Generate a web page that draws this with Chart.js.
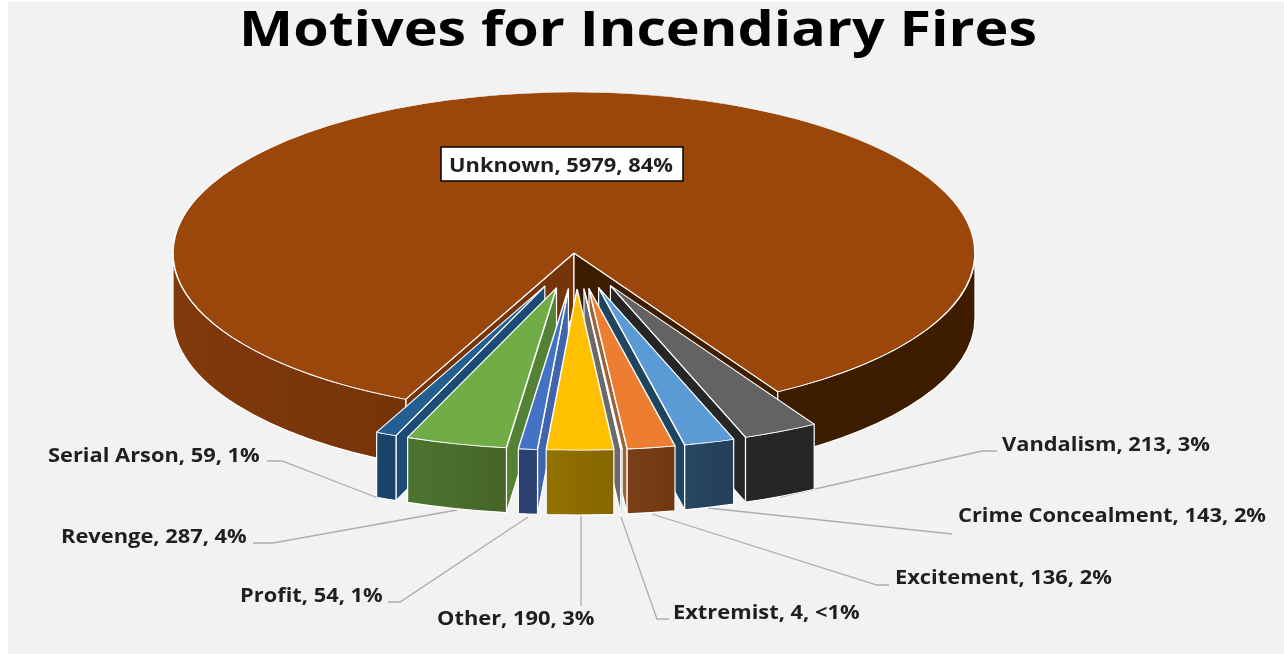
<!DOCTYPE html>
<html>
<head>
<meta charset="utf-8">
<title>Motives for Incendiary Fires</title>
<script src="https://cdn.jsdelivr.net/npm/chart.js@4"></script>
<style>
  html, body { margin: 0; background: #fff; }
  #panel { position: absolute; left: 8px; top: 2px; width: 1276px; height: 652px; background: #f2f2f2; }
  canvas { display: block; }
</style>
</head>
<body>
<div id="panel"><canvas id="fires" width="1260" height="652"></canvas></div>
<script>
const categories = ['Unknown', 'Vandalism', 'Crime Concealment', 'Excitement', 'Extremist', 'Other', 'Profit', 'Revenge', 'Serial Arson'];
const counts = [5979, 213, 143, 136, 4, 190, 54, 287, 59];
const percents = ['84%', '3%', '2%', '2%', '<1%', '3%', '1%', '4%', '1%'];

const topColors = ['#9b470c', '#636363', '#5b9bd5', '#ed7d31', '#a5a5a5', '#ffc000', '#4472c4', '#70ad47', '#255e91'];
const wallColors = [
  ['#80390b', '#763409'], ['#262626', '#262626'], ['#264662', '#243f58'], ['#7b3f17', '#6f3813'], ['#5a5a5a', '#5a5a5a'],
  ['#927200', '#866600'], ['#2b4172', '#2b4172'], ['#4c7531', '#466526'], ['#1a4369', '#1a4369']
];
// [start side, end side] of each cut
const cutColors = [
  ['#763409', '#3d1c00'], ['#262626', '#262626'], ['#1f4460', '#1f4460'], ['#9c6238', '#9c6238'], ['#6a6a6a', '#6a6a6a'],
  ['#8f6f00', '#8f6f00'], ['#3f65ad', '#3f65ad'], ['#548235', '#548235'], ['#1c4c75', '#1c4c75']
];

// label left edge + vertical middle, then leader line, all in page pixels
const labelSpots = [[449, 167], [1002, 446], [958, 517], [895, 579], [673, 614], [437, 620], [240, 597], [61, 538], [48, 457]];
const leaders = [
  null,
  [[780, 497], [982, 451], [997, 451]],
  [[708, 508], [952, 534]],
  [[652, 514], [877, 585], [889, 585]],
  [[621, 517], [657, 619], [669, 619]],
  [[581, 516], [581, 606]],
  [[528, 517], [400, 602], [388, 602]],
  [[457, 510], [273, 543], [253, 543]],
  [[378, 498], [282, 461], [267, 461]]
];

const PANEL_X = 8, PANEL_Y = 2;
const PIE_X = 574 - PANEL_X, PIE_Y = 253 - PANEL_Y;
const SQUASH = 0.4015, PULL_SQUASH = 0.45, DEPTH = 65, PULL = 80, PULL_SHIFT = 2.5;
const LABEL_FONT = 'bold 19px "Open Sans"';
const LABEL_STRETCH = 1.15, TITLE_STRETCH = 1.195;

function pieBox(el) {
  const p = el.getProps(['x', 'y', 'startAngle', 'endAngle', 'outerRadius'], true);
  const mid = (p.startAngle + p.endAngle) / 2;
  const pull = el.$pull;
  return {
    s: p.startAngle, e: p.endAngle, r: p.outerRadius,
    mid: mid,
    cx: PIE_X + Math.cos(mid) * pull + (pull ? PULL_SHIFT : 0),
    cy: PIE_Y + Math.sin(mid) * pull * PULL_SQUASH
  };
}

function strokeWhite(ctx) {
  ctx.strokeStyle = '#fff';
  ctx.lineWidth = 1.2;
  ctx.lineJoin = 'round';
  ctx.stroke();
}

function drawCut(ctx, b, angle, color) {
  const x = b.cx + Math.cos(angle) * b.r;
  const y = b.cy + Math.sin(angle) * b.r * SQUASH;
  ctx.beginPath();
  ctx.moveTo(b.cx, b.cy);
  ctx.lineTo(x, y);
  ctx.lineTo(x, y + DEPTH);
  ctx.lineTo(b.cx, b.cy + DEPTH);
  ctx.closePath();
  ctx.fillStyle = color;
  ctx.fill();
  strokeWhite(ctx);
}

function drawRim(ctx, b, a0, a1, colors) {
  const x0 = b.cx + Math.cos(a0) * b.r, x1 = b.cx + Math.cos(a1) * b.r;
  const g = ctx.createLinearGradient(Math.min(x0, x1), 0, Math.max(x0, x1), 0);
  g.addColorStop(0, colors[0]);
  g.addColorStop(1, colors[1]);
  ctx.beginPath();
  ctx.ellipse(b.cx, b.cy, b.r, b.r * SQUASH, 0, a0, a1);
  ctx.ellipse(b.cx, b.cy + DEPTH, b.r, b.r * SQUASH, 0, a1, a0, true);
  ctx.closePath();
  ctx.fillStyle = g;
  ctx.fill();
  strokeWhite(ctx);
}

function drawSlice(ctx, el, i) {
  const b = pieBox(el);
  if (Math.cos(b.s) < 0) drawCut(ctx, b, b.s, cutColors[i][0]);
  if (Math.cos(b.e) > 0) drawCut(ctx, b, b.e, cutColors[i][1]);
  // only the front half of the rim can be seen
  [0, 2 * Math.PI].forEach(k => {
    const a0 = Math.max(b.s, k), a1 = Math.min(b.e, k + Math.PI);
    if (a1 <= a0) return;
    drawRim(ctx, b, a0, a1, i === 0 && k > 0 ? ['#3d1c00', '#3d1c00'] : wallColors[i]);
  });
  ctx.save();
  ctx.translate(b.cx, b.cy);
  ctx.scale(1, SQUASH);
  ctx.translate(-el.x, -el.y);
  el.draw(ctx);
  ctx.restore();
}

const pie3d = {
  id: 'pie3d',
  afterLayout(chart) {
    // reference title is wider than any installed bold face, stretch it
    const t = chart.titleBlock;
    if (t.$stretched) return;
    t.$stretched = true;
    const drawTitle = t.draw;
    t.draw = function () {
      const mid = chart.width / 2;
      t.ctx.save();
      t.ctx.translate(mid, 0);
      t.ctx.scale(TITLE_STRETCH, 1);
      t.ctx.translate(-mid, 0);
      drawTitle.call(t);
      t.ctx.restore();
    };
  },
  beforeDatasetsDraw(chart) {
    const ctx = chart.ctx;
    const arcs = chart.getDatasetMeta(0).data;
    arcs.forEach((el, i) => { el.$pull = i === 0 ? 0 : PULL; });

    ctx.save();
    ctx.strokeStyle = '#adadad';
    ctx.lineWidth = 1.3;
    leaders.forEach(pts => {
      if (!pts) return;
      ctx.beginPath();
      pts.forEach((p, k) => ctx[k ? 'lineTo' : 'moveTo'](p[0] - PANEL_X, p[1] - PANEL_Y));
      ctx.stroke();
    });
    ctx.restore();

    // back to front
    arcs.map((el, i) => ({ el, i, depth: Math.sin(pieBox(el).mid) }))
      .sort((a, b) => a.depth - b.depth)
      .forEach(o => drawSlice(ctx, o.el, o.i));
    return false;
  },
  afterDraw(chart) {
    const ctx = chart.ctx;
    ctx.save();
    // the boxed label on the big slice
    ctx.fillStyle = '#fff';
    ctx.strokeStyle = '#000';
    ctx.lineWidth = 1.5;
    ctx.fillRect(441 - PANEL_X, 147 - PANEL_Y, 242, 34);
    ctx.strokeRect(441 - PANEL_X, 147 - PANEL_Y, 242, 34);
    ctx.font = LABEL_FONT;
    ctx.fillStyle = '#1f1f1f';
    ctx.textBaseline = 'middle';
    categories.forEach((name, i) => {
      const spot = labelSpots[i];
      ctx.save();
      ctx.translate(spot[0] - PANEL_X, spot[1] - PANEL_Y);
      ctx.scale(LABEL_STRETCH, 1);
      ctx.fillText(`${name}, ${counts[i]}, ${percents[i]}`, 0, 0);
      ctx.restore();
    });
    ctx.restore();
  }
};

new Chart(document.getElementById('fires'), {
  type: 'pie',
  data: {
    labels: categories,
    datasets: [{
      data: counts,
      backgroundColor: topColors,
      borderColor: '#fff',
      borderWidth: 1.5
    }]
  },
  options: {
    responsive: false,
    animation: false,
    radius: 401,
    rotation: 204.8,
    plugins: {
      legend: { display: false },
      tooltip: { enabled: false },
      title: {
        display: true,
        text: 'Motives for Incendiary Fires',
        color: '#000',
        font: { family: '"Open Sans"', size: 48, weight: 'bold' },
        padding: { top: 2, bottom: 0 }
      }
    }
  },
  plugins: [pie3d]
});
</script>
</body>
</html>
